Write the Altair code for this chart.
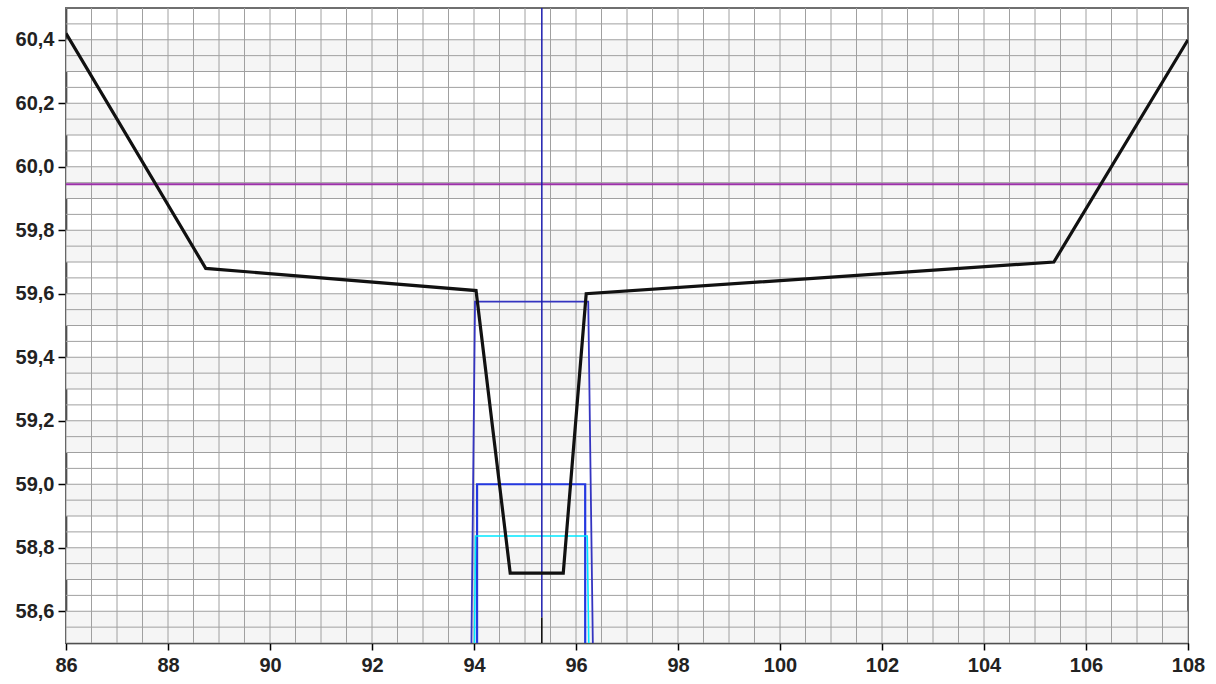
import altair as alt
import pandas as pd
import numpy as np

# ---------------- data ----------------
x_ticks = [86, 88, 90, 92, 94, 96, 98, 100, 102, 104, 106, 108]
y_ticks = [58.6, 58.8, 59.0, 59.2, 59.4, 59.6, 59.8, 60.0, 60.2, 60.4]
x_grid = [round(v, 2) for v in np.arange(86.0, 108.01, 0.5)]
y_grid = [round(v, 3) for v in np.arange(58.5, 60.501, 0.05)]
band_lo = [60.3, 60.1, 59.9, 59.7, 59.5, 59.3, 59.1, 58.9, 58.7, 58.5]
band_hi = [60.4, 60.2, 60.0, 59.8, 59.6, 59.4, 59.2, 59.0, 58.8, 58.6]

# ground profile (black)
profile_x = [86.0, 88.74, 94.04, 94.71, 95.75, 96.20, 105.37, 108.0]
profile_y = [60.42, 59.68, 59.61, 58.72, 58.72, 59.60, 59.70, 60.40]

# design sections
upper_x = [93.95, 94.02, 96.24, 96.33]
upper_y = [58.5, 59.575, 59.575, 58.5]
lower_x = [94.06, 94.06, 96.18, 96.18]
lower_y = [58.5, 59.0, 59.0, 58.5]
cyan_x = [94.01, 94.03, 96.22, 96.25]
cyan_y = [58.5, 58.837, 58.837, 58.5]

water_level = 59.945
axis_x = 95.33
axis_split = 58.58

X_DOM = [86, 108]
Y_DOM = [58.5, 60.5]

FONT = "Liberation Sans"

xs = alt.Scale(domain=X_DOM, nice=False, zero=False)
ys = alt.Scale(domain=Y_DOM, nice=False, zero=False)

x_axis = alt.Axis(values=x_ticks, title=None, grid=False, labelFont=FONT,
                  labelFontSize=20, labelFontWeight="bold", labelColor="#222222",
                  tickColor="black", tickSize=7, tickWidth=1.5, labelPadding=5,
                  domainColor="black", domainWidth=1.5, labelFlush=False,
                  labelOverlap=False)
y_axis = alt.Axis(values=y_ticks, title=None, grid=False, labelFont=FONT,
                  labelFontSize=20, labelFontWeight="bold", labelColor="#222222",
                  tickColor="black", tickSize=8, tickWidth=1.5, labelPadding=4,
                  domainColor="black", domainWidth=1.5,
                  labelExpr="replace(format(datum.value, '.1f'), '.', ',')",
                  labelOverlap=False)


def X(field="x"):
    return alt.X(f"{field}:Q", scale=xs, axis=x_axis)


def Y(field="y"):
    return alt.Y(f"{field}:Q", scale=ys, axis=y_axis)


bands = alt.Chart(pd.DataFrame({"y": band_lo, "y2": band_hi,
                                "x": [86] * len(band_lo), "x2": [108] * len(band_lo)})).mark_rect(
    color="#f5f5f5").encode(x=X(), x2="x2:Q", y=Y(), y2="y2:Q")

vgrid = alt.Chart(pd.DataFrame({"x": x_grid, "y": [58.5] * len(x_grid),
                                "y2": [60.5] * len(x_grid)})).mark_rule(
    color="#a0a0a0", strokeWidth=1).encode(x=X(), y=Y(), y2="y2:Q")

hgrid = alt.Chart(pd.DataFrame({"y": y_grid, "x": [86] * len(y_grid),
                                "x2": [108] * len(y_grid)})).mark_rule(
    color="#a0a0a0", strokeWidth=1).encode(y=Y(), x=X(), x2="x2:Q")

water = alt.Chart(pd.DataFrame({"y": [water_level], "x": [86], "x2": [108]})).mark_rule(
    color="#9b30a8", strokeWidth=2).encode(y=Y(), x=X(), x2="x2:Q")


def poly(xv, yv, color, width):
    df = pd.DataFrame({"x": xv, "y": yv, "o": list(range(len(xv)))})
    return alt.Chart(df).mark_line(color=color, strokeWidth=width, clip=True).encode(
        x=X(), y=Y(), order="o:Q")


upper = poly(upper_x, upper_y, "#3434c0", 1.8)
lower = poly(lower_x, lower_y, "#2438e0", 2.2)
cyan = poly(cyan_x, cyan_y, "#00e8ff", 1.6)

center_blue = alt.Chart(pd.DataFrame({"x": [axis_x], "y": [axis_split], "y2": [60.5]})).mark_rule(
    color="#1c1cae", strokeWidth=1.5).encode(x=X(), y=Y(), y2="y2:Q")
center_black = alt.Chart(pd.DataFrame({"x": [axis_x], "y": [58.5], "y2": [axis_split]})).mark_rule(
    color="black", strokeWidth=1.5).encode(x=X(), y=Y(), y2="y2:Q")

profile = poly(profile_x, profile_y, "#111111", 3.2)

chart = alt.layer(
    bands, vgrid, hgrid, water, upper, lower, cyan, center_blue, center_black, profile
).properties(
    width=1122, height=635,
    padding={"left": 66, "top": 8, "right": 28, "bottom": 41},
    autosize=alt.AutoSizeParams(type="none"),
    background="white",
).configure_view(stroke="black", strokeWidth=1.5)

chart.save("out.html", embed_options={"renderer": "svg", "actions": False})
